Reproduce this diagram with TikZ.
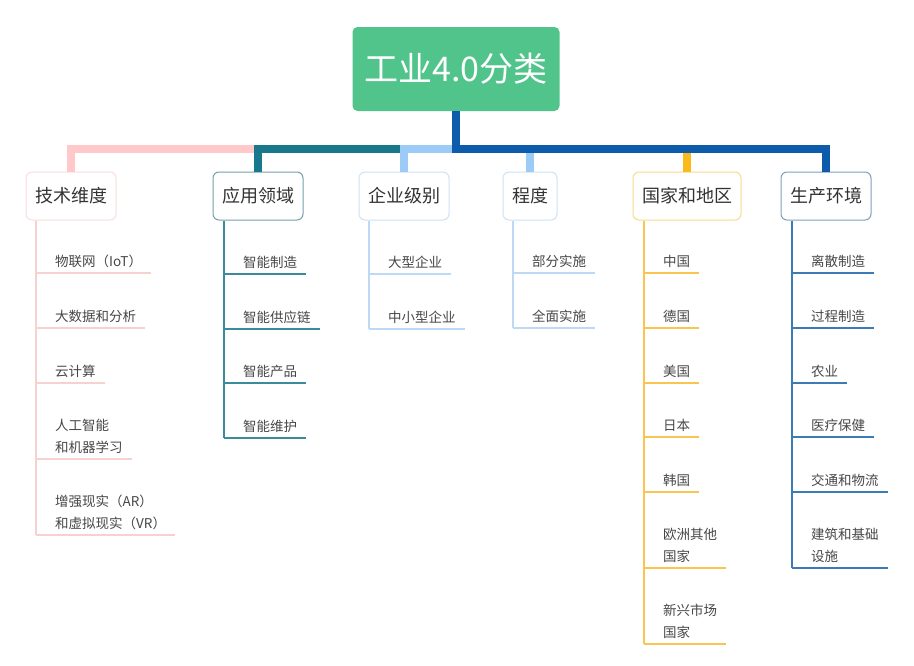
\documentclass[tikz,border=0pt]{standalone}
\usepackage{fontspec}
\setmainfont{Noto Sans CJK SC}
\definecolor{rootC}{HTML}{50C48B}
\definecolor{txtC}{HTML}{333333}
\definecolor{leafC}{HTML}{474747}
\definecolor{pinkC}{HTML}{FFC9C9}
\definecolor{pinkL}{HTML}{F7D0D0}
\definecolor{pinkB}{HTML}{F9DCDC}
\definecolor{tealC}{HTML}{18798D}
\definecolor{tealL}{HTML}{3A8C9A}
\definecolor{tealB}{HTML}{76A0AB}
\definecolor{lbC}{HTML}{9DCBF7}
\definecolor{lbL}{HTML}{BCDAF3}
\definecolor{lbB}{HTML}{CCE2F5}
\definecolor{orC}{HTML}{FBBA1C}
\definecolor{orL}{HTML}{F8C650}
\definecolor{orB}{HTML}{F9DA8F}
\definecolor{dbC}{HTML}{0D5CAB}
\definecolor{dbL}{HTML}{3D7BB5}
\definecolor{dbB}{HTML}{7F9FBD}
\newcommand\leafitem[5]{%
  \node[leaf, anchor=south west] (#1) at ({#3+19},#4) {#5};
  \draw[lline, #2] ([xshift=-19pt]#1.south west) -- ([xshift=9pt]#1.south east);}
\newcommand\stemline[3]{%
  \path ([xshift=-19pt]#2.south west) coordinate (#2v);
  \draw[lline, #3] (#2v |- #1.south) -- (#2v);}
\begin{document}
\begin{tikzpicture}[x=1pt,y=-1pt,
  conn/.style={line width=8pt, line join=miter},
  cat/.style={draw, fill=white, rounded corners=6pt, line width=1pt, minimum height=48pt,
    inner xsep=9pt, font=\fontsize{18}{22}\selectfont, text=txtC},
  leaf/.style={inner xsep=0pt, inner ysep=5.5pt, align=left,
    font=\fontsize{13.5}{22}\selectfont, text=leafC},
  lline/.style={line width=1.3pt}]
\path[use as bounding box, fill=white] (0,0) rectangle (914,665);
% root
\node[fill=rootC, rounded corners=5pt, minimum width=207pt, minimum height=84pt,
  text=white, font=\fontsize{34}{40}\selectfont] (root) at (456,69) {工业4.0分类};
% categories
\node[cat, draw=pinkB] (tech) at (71,196) {技术维度};
\node[cat, draw=tealB] (app) at (258,196) {应用领域};
\node[cat, draw=lbB] (ent) at (404,196) {企业级别};
\node[cat, draw=lbB] (deg) at (530,196) {程度};
\node[cat, draw=orB] (cty) at (687,196) {国家和地区};
\node[cat, draw=dbB] (env) at (826,196) {生产环境};
% main connectors
\coordinate (hub) at (456,149);
\draw[conn, pinkC] (root.south) -- (hub) -| (tech.north);
\draw[conn, tealC] (root.south) -- (hub) -| (app.north);
\draw[conn, lbC] (root.south) -- (hub) -| (ent.north);
\draw[conn, lbC] (root.south) -- (hub) -| (deg.north);
\draw[conn, orC] (root.south) -- (hub) -| (cty.north);
\draw[conn, dbC] (root.south) -- (hub) -| (env.north);
% tech leaves
\leafitem{t1}{pinkL}{36}{273}{物联网（IoT）}
\leafitem{t2}{pinkL}{36}{328}{大数据和分析}
\leafitem{t3}{pinkL}{36}{383}{云计算}
\leafitem{t4}{pinkL}{36}{459}{人工智能\\和机器学习}
\leafitem{t5}{pinkL}{36}{535}{增强现实（AR）\\和虚拟现实（VR）}
\stemline{tech}{t5}{pinkL}
% app leaves
\leafitem{a1}{tealL}{224}{274}{智能制造}
\leafitem{a2}{tealL}{224}{329}{智能供应链}
\leafitem{a3}{tealL}{224}{383}{智能产品}
\leafitem{a4}{tealL}{224}{438}{智能维护}
\stemline{app}{a4}{tealL}
% ent leaves
\leafitem{e1}{lbL}{369}{274}{大型企业}
\leafitem{e2}{lbL}{369}{329}{中小型企业}
\stemline{ent}{e2}{lbL}
% degree leaves
\leafitem{d1}{lbL}{513}{273}{部分实施}
\leafitem{d2}{lbL}{513}{328}{全面实施}
\stemline{deg}{d2}{lbL}
% country leaves
\leafitem{c1}{orL}{644}{273}{中国}
\leafitem{c2}{orL}{644}{328}{德国}
\leafitem{c3}{orL}{644}{383}{美国}
\leafitem{c4}{orL}{644}{437}{日本}
\leafitem{c5}{orL}{644}{492}{韩国}
\leafitem{c6}{orL}{644}{568}{欧洲其他\\国家}
\leafitem{c7}{orL}{644}{644}{新兴市场\\国家}
\stemline{cty}{c7}{orL}
% environment leaves
\leafitem{v1}{dbL}{792}{273}{离散制造}
\leafitem{v2}{dbL}{792}{328}{过程制造}
\leafitem{v3}{dbL}{792}{383}{农业}
\leafitem{v4}{dbL}{792}{437}{医疗保健}
\leafitem{v5}{dbL}{792}{492}{交通和物流}
\leafitem{v6}{dbL}{792}{568}{建筑和基础\\设施}
\stemline{env}{v6}{dbL}
\end{tikzpicture}
\end{document}
